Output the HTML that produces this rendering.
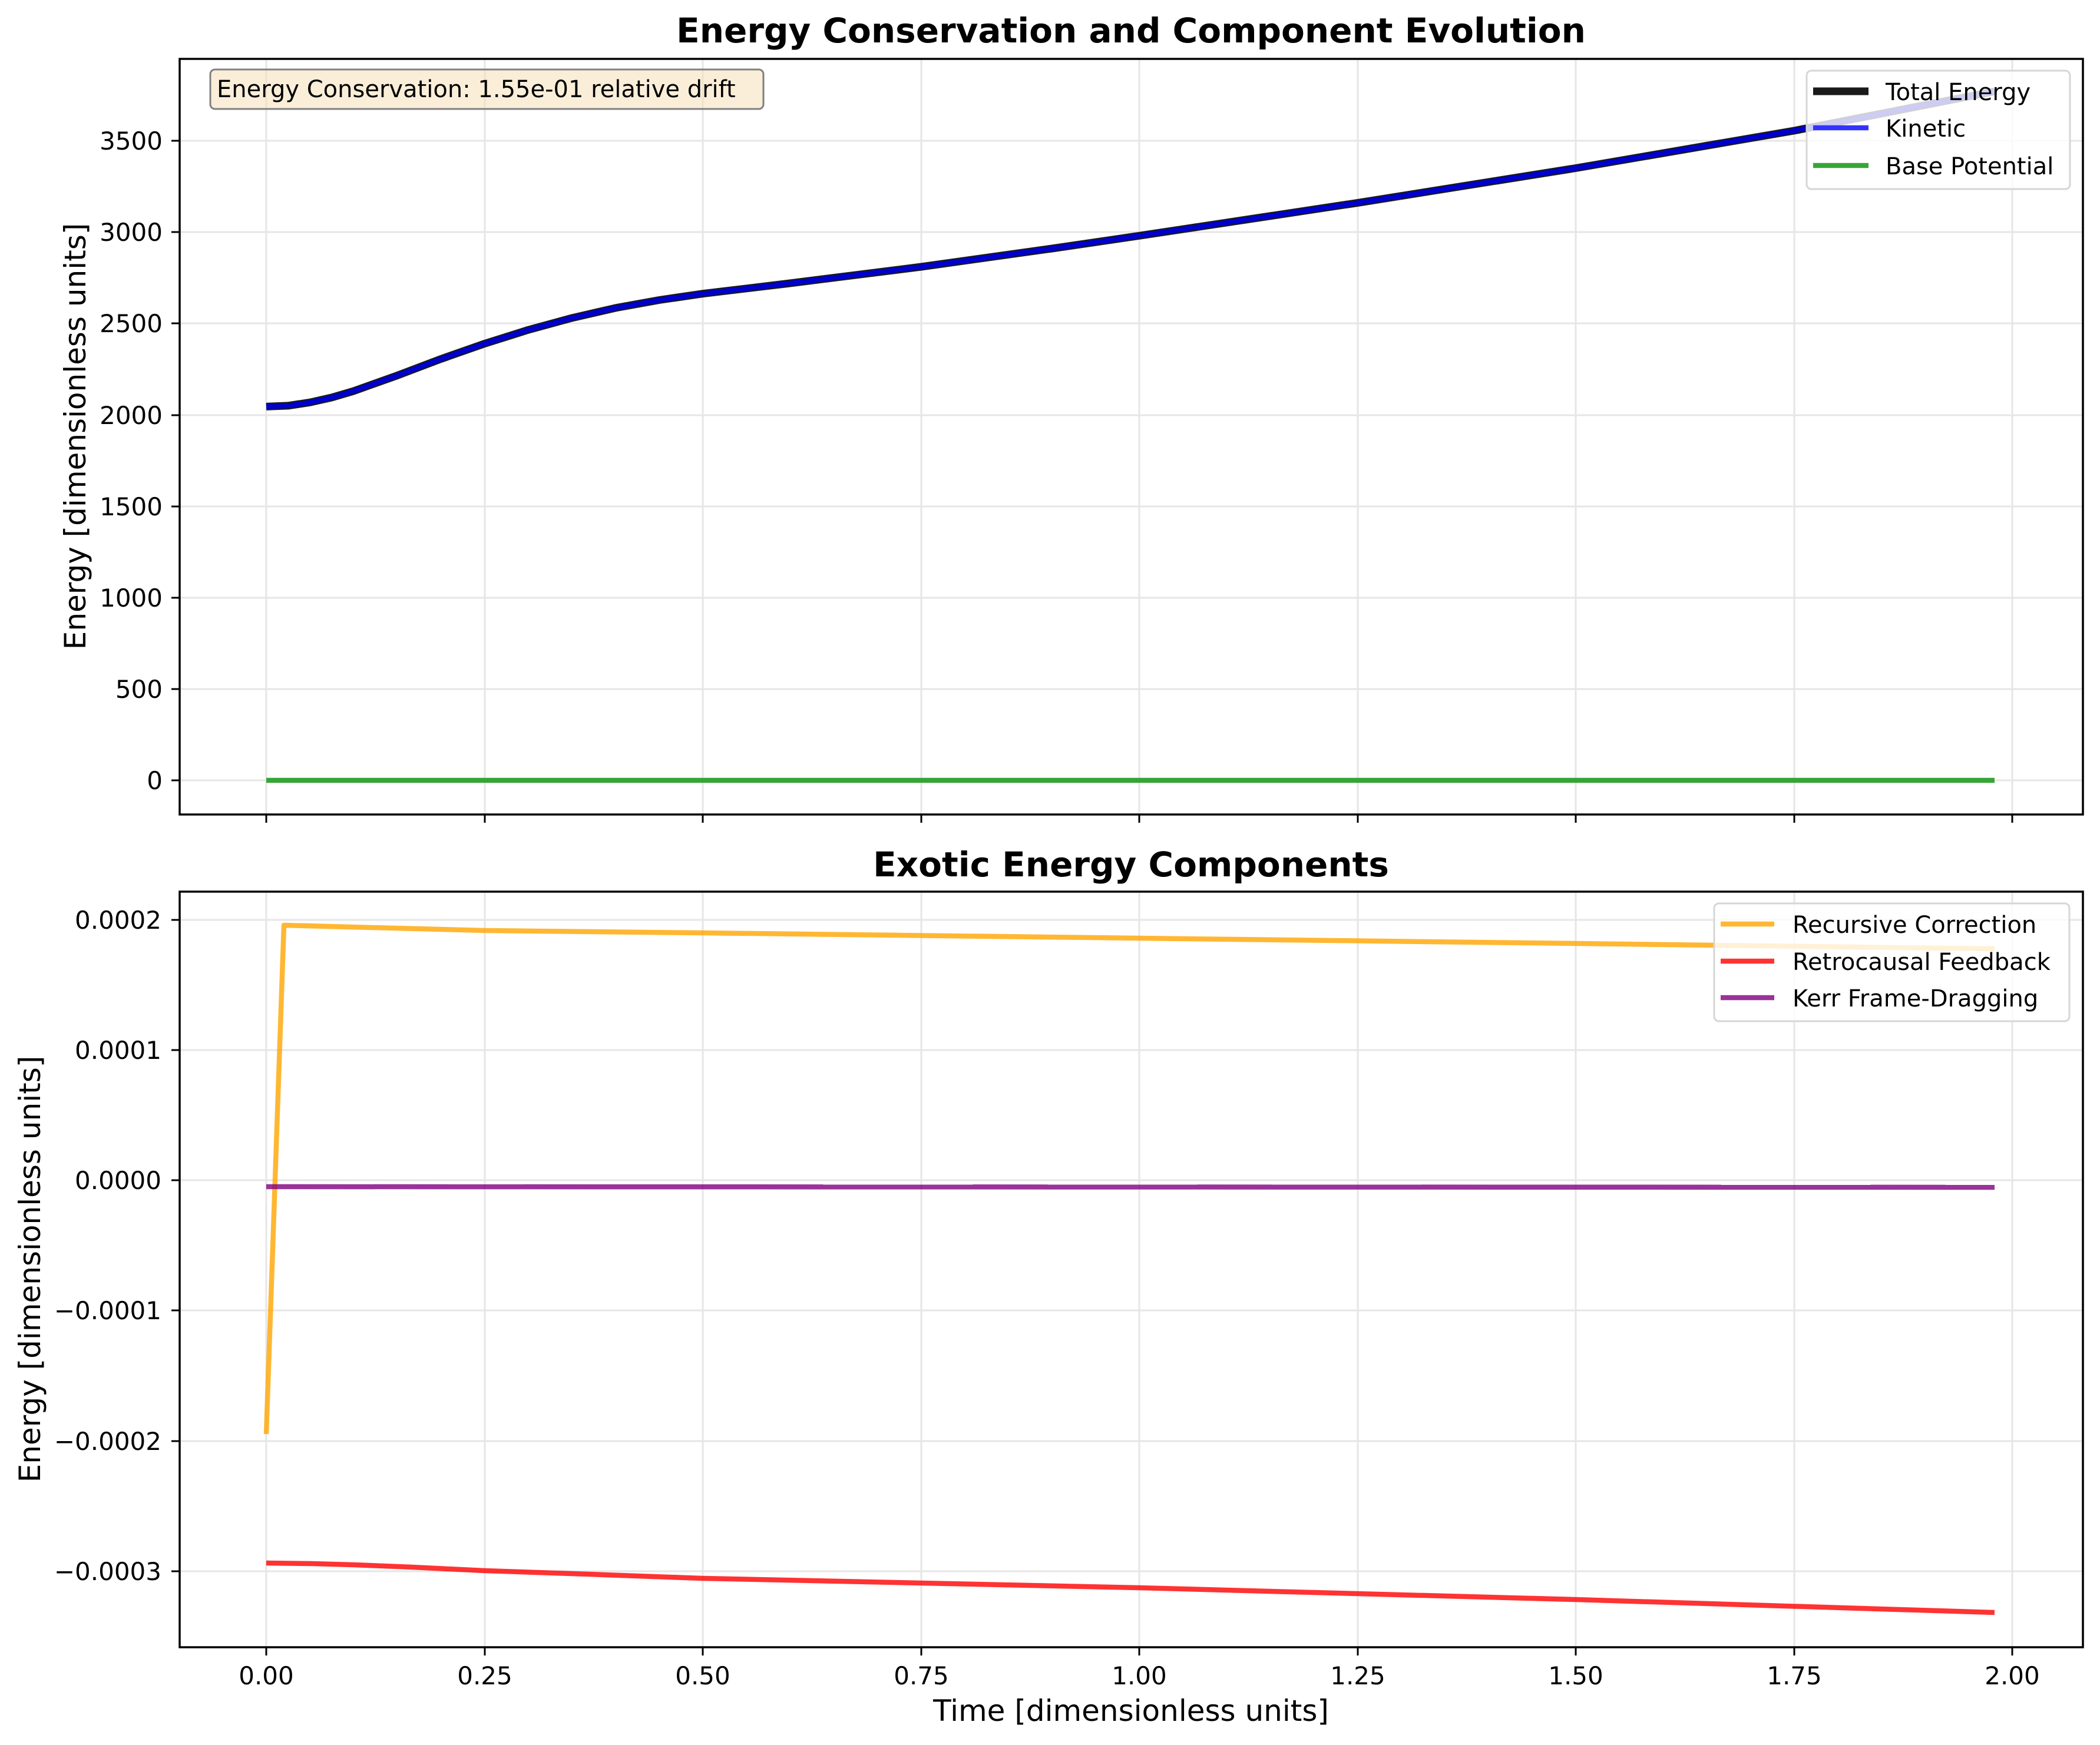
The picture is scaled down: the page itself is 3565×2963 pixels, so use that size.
<!DOCTYPE html>
<html><head><meta charset="utf-8"><style>html,body{margin:0;padding:0;background:#fff}svg{display:block}</style></head>
<body>
<svg width="3565" height="2963" viewBox="0 0 3565 2963" xmlns="http://www.w3.org/2000/svg" font-family="'DejaVu Sans','Liberation Sans',sans-serif">
<rect width="3565" height="2963" fill="#fff"/>
<!-- TOP AXES -->
<g stroke="#e6e6e6" stroke-width="3">
<line x1="452" y1="100" x2="452" y2="1383"/><line x1="823" y1="100" x2="823" y2="1383"/><line x1="1193" y1="100" x2="1193" y2="1383"/><line x1="1564" y1="100" x2="1564" y2="1383"/><line x1="1934" y1="100" x2="1934" y2="1383"/><line x1="2305" y1="100" x2="2305" y2="1383"/><line x1="2675" y1="100" x2="2675" y2="1383"/><line x1="3046" y1="100" x2="3046" y2="1383"/><line x1="3416" y1="100" x2="3416" y2="1383"/>
<line x1="305" y1="1325" x2="3536" y2="1325"/><line x1="305" y1="1170" x2="3536" y2="1170"/><line x1="305" y1="1015" x2="3536" y2="1015"/><line x1="305" y1="860" x2="3536" y2="860"/><line x1="305" y1="705" x2="3536" y2="705"/><line x1="305" y1="549" x2="3536" y2="549"/><line x1="305" y1="394" x2="3536" y2="394"/><line x1="305" y1="239" x2="3536" y2="239"/>
</g>
<polyline fill="none" stroke="#1a1a1a" stroke-width="13" stroke-linejoin="round" points="452,690.4 489,688.9 526,683.3 563,675 600,664.1 674,637.7 748,609.7 823,583.4 897,560.1 971,539.9 1045,522.9 1119,509.5 1193,498.7 1341,481 1564,453 1786,422 1934,400.3 2305,344.4 2675,285.5 3046,221.9 3386,155.2"/>
<polyline fill="none" stroke="#0000cc" stroke-width="8.5" stroke-linejoin="round" points="452,690.4 489,688.9 526,683.3 563,675 600,664.1 674,637.7 748,609.7 823,583.4 897,560.1 971,539.9 1045,522.9 1119,509.5 1193,498.7 1341,481 1564,453 1786,422 1934,400.3 2305,344.4 2675,285.5 3046,221.9 3386,155.2"/>
<line x1="452" y1="1325" x2="3386" y2="1325" stroke="#2ca02c" stroke-opacity="0.95" stroke-width="8.5"/>
<rect x="305" y="100" width="3231" height="1283" fill="none" stroke="#000" stroke-width="3.5"/>
<g stroke="#000" stroke-width="3">
<line x1="452" y1="1383" x2="452" y2="1397"/><line x1="823" y1="1383" x2="823" y2="1397"/><line x1="1193" y1="1383" x2="1193" y2="1397"/><line x1="1564" y1="1383" x2="1564" y2="1397"/><line x1="1934" y1="1383" x2="1934" y2="1397"/><line x1="2305" y1="1383" x2="2305" y2="1397"/><line x1="2675" y1="1383" x2="2675" y2="1397"/><line x1="3046" y1="1383" x2="3046" y2="1397"/><line x1="3416" y1="1383" x2="3416" y2="1397"/>
<line x1="291" y1="1325" x2="305" y2="1325"/><line x1="291" y1="1170" x2="305" y2="1170"/><line x1="291" y1="1015" x2="305" y2="1015"/><line x1="291" y1="860" x2="305" y2="860"/><line x1="291" y1="705" x2="305" y2="705"/><line x1="291" y1="549" x2="305" y2="549"/><line x1="291" y1="394" x2="305" y2="394"/><line x1="291" y1="239" x2="305" y2="239"/>
</g>
<g font-size="42" text-anchor="end" fill="#000">
<text x="276" y="1340">0</text><text x="276" y="1185">500</text><text x="276" y="1030">1000</text><text x="276" y="875">1500</text><text x="276" y="720">2000</text><text x="276" y="564">2500</text><text x="276" y="409">3000</text><text x="276" y="254">3500</text>
</g>
<text x="1920" y="72" font-size="58" font-weight="bold" text-anchor="middle">Energy Conservation and Component Evolution</text>
<text transform="translate(145,741) rotate(-90)" font-size="50" text-anchor="middle">Energy [dimensionless units]</text>
<rect x="357" y="118" width="939" height="67" rx="8" fill="#f5deb3" fill-opacity="0.5" stroke="#808080" stroke-width="3"/>
<text x="368" y="165" font-size="40">Energy Conservation: 1.55e-01 relative drift</text>
<rect x="3067" y="120" width="447" height="201" rx="8" fill="#fff" fill-opacity="0.8" stroke="#d6d6d6" stroke-width="3"/>
<line x1="3078" y1="155" x2="3172" y2="155" stroke="#1a1a1a" stroke-width="13"/>
<line x1="3078" y1="217" x2="3172" y2="217" stroke="#3333ff" stroke-width="8.5"/>
<line x1="3078" y1="281" x2="3172" y2="281" stroke="#2ca02c" stroke-opacity="0.95" stroke-width="8.5"/>
<g font-size="40"><text x="3201" y="170">Total Energy</text><text x="3201" y="232">Kinetic</text><text x="3201" y="296">Base Potential</text></g>

<!-- BOTTOM AXES -->
<g stroke="#e6e6e6" stroke-width="3">
<line x1="452" y1="1514" x2="452" y2="2797"/><line x1="823" y1="1514" x2="823" y2="2797"/><line x1="1193" y1="1514" x2="1193" y2="2797"/><line x1="1564" y1="1514" x2="1564" y2="2797"/><line x1="1934" y1="1514" x2="1934" y2="2797"/><line x1="2305" y1="1514" x2="2305" y2="2797"/><line x1="2675" y1="1514" x2="2675" y2="2797"/><line x1="3046" y1="1514" x2="3046" y2="2797"/><line x1="3416" y1="1514" x2="3416" y2="2797"/>
<line x1="305" y1="1562" x2="3536" y2="1562"/><line x1="305" y1="1783" x2="3536" y2="1783"/><line x1="305" y1="2004" x2="3536" y2="2004"/><line x1="305" y1="2225" x2="3536" y2="2225"/><line x1="305" y1="2447" x2="3536" y2="2447"/><line x1="305" y1="2668" x2="3536" y2="2668"/>
</g>
<polyline fill="none" stroke="#ffa500" stroke-opacity="0.8" stroke-width="8.5" stroke-linejoin="round" points="452,2435 482,1571 823,1580 1193,1584 1934,1593 2675,1602 3386,1611"/>
<polyline fill="none" stroke="#ff0000" stroke-opacity="0.8" stroke-width="8.5" stroke-linejoin="round" points="452,2654 530,2655 600,2657 700,2661 823,2667 1000,2673 1193,2680 1934,2696 2675,2716 3386,2738"/>
<line x1="452" y1="2015" x2="3386" y2="2016" stroke="#800080" stroke-opacity="0.8" stroke-width="8.5"/>
<rect x="305" y="1514" width="3231" height="1283" fill="none" stroke="#000" stroke-width="3.5"/>
<g stroke="#000" stroke-width="3">
<line x1="452" y1="2797" x2="452" y2="2811"/><line x1="823" y1="2797" x2="823" y2="2811"/><line x1="1193" y1="2797" x2="1193" y2="2811"/><line x1="1564" y1="2797" x2="1564" y2="2811"/><line x1="1934" y1="2797" x2="1934" y2="2811"/><line x1="2305" y1="2797" x2="2305" y2="2811"/><line x1="2675" y1="2797" x2="2675" y2="2811"/><line x1="3046" y1="2797" x2="3046" y2="2811"/><line x1="3416" y1="2797" x2="3416" y2="2811"/>
<line x1="291" y1="1562" x2="305" y2="1562"/><line x1="291" y1="1783" x2="305" y2="1783"/><line x1="291" y1="2004" x2="305" y2="2004"/><line x1="291" y1="2225" x2="305" y2="2225"/><line x1="291" y1="2447" x2="305" y2="2447"/><line x1="291" y1="2668" x2="305" y2="2668"/>
</g>
<g font-size="42" text-anchor="end">
<text x="274" y="1577">0.0002</text><text x="274" y="1798">0.0001</text><text x="274" y="2019">0.0000</text><text x="274" y="2240">−0.0001</text><text x="274" y="2462">−0.0002</text><text x="274" y="2683">−0.0003</text>
</g>
<g font-size="42" text-anchor="middle">
<text x="452" y="2860">0.00</text><text x="823" y="2860">0.25</text><text x="1193" y="2860">0.50</text><text x="1564" y="2860">0.75</text><text x="1934" y="2860">1.00</text><text x="2305" y="2860">1.25</text><text x="2675" y="2860">1.50</text><text x="3046" y="2860">1.75</text><text x="3416" y="2860">2.00</text>
</g>
<text x="1920" y="1488" font-size="58" font-weight="bold" text-anchor="middle">Exotic Energy Components</text>
<text transform="translate(68,2155) rotate(-90)" font-size="50" text-anchor="middle">Energy [dimensionless units]</text>
<text x="1920" y="2922" font-size="50" text-anchor="middle">Time [dimensionless units]</text>
<rect x="2910" y="1534" width="603" height="200" rx="8" fill="#fff" fill-opacity="0.8" stroke="#d6d6d6" stroke-width="3"/>
<line x1="2921" y1="1569" x2="3012" y2="1569" stroke="#ffa500" stroke-opacity="0.8" stroke-width="8.5"/>
<line x1="2921" y1="1632" x2="3012" y2="1632" stroke="#ff0000" stroke-opacity="0.8" stroke-width="8.5"/>
<line x1="2921" y1="1694" x2="3012" y2="1694" stroke="#800080" stroke-opacity="0.8" stroke-width="8.5"/>
<g font-size="40"><text x="3043" y="1584">Recursive Correction</text><text x="3043" y="1647">Retrocausal Feedback</text><text x="3043" y="1709">Kerr Frame-Dragging</text></g>
</svg>
</body></html>
